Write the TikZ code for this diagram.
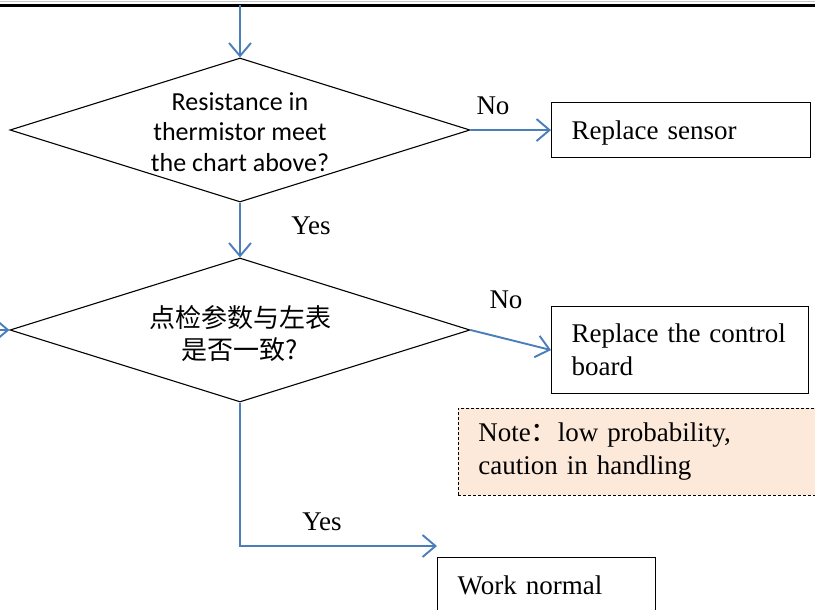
\documentclass[tikz,border=0pt]{standalone}
\usepackage{fontspec}
\setmainfont{Liberation Serif}
\newfontfamily\cjk{Noto Sans CJK SC}
\newfontfamily\qfont{Carlito}
\usetikzlibrary{shapes.geometric, arrows.meta, positioning}
\definecolor{flowblue}{HTML}{4A7EBB}
\definecolor{notefill}{HTML}{FCE9DA}

\begin{document}
\begin{tikzpicture}[
  x=1pt, y=-1pt,
  decision/.style={diamond, draw, line width=1.1pt, minimum width=460pt, minimum height=144pt, inner sep=0pt},
  qtext/.style={align=center, font=\qfont\fontsize{26}{30.5}\selectfont},
  actbox/.style={rectangle, draw, line width=1.1pt, anchor=north west, inner xsep=20pt, inner ysep=0pt, align=left, font=\fontsize{27}{33}\selectfont},
  notebox/.style={actbox, dashed, dash pattern=on 3pt off 2pt, line width=0.9pt, fill=notefill},
  tag/.style={font=\fontsize{27}{33}\selectfont, inner sep=0pt},
  arrow/.style={-{Straight Barb[length=13pt,width=22pt]}, line width=1.9pt, draw=flowblue}
]
  \useasboundingbox (0,0) rectangle (815,610);

  % rule along the top edge
  \draw[gray!45, line width=1pt] (0,2) -- (815,2);
  \draw[line width=2.5pt] (0,5.5) -- (815,5.5);
  \coordinate (topin) at (240,5.5);
  \coordinate (leftin) at (-30,330);
  \coordinate (yesend) at (437,546);

  % checks
  \node[decision] (chk1) at (240,130) {};
  \node[qtext] (chk1txt) at (240,132) {Resistance in\\thermistor meet\\the chart above?};
  \node[decision] (chk2) at (240,330) {};
  \node[qtext, font=\cjk\fontsize{26}{32}\selectfont] (chk2txt) at (240,334) {点检参数与左表\\是否一致?};

  % actions
  \node[actbox, text width=219pt, text depth=0pt, minimum height=55pt] (sensor) at (551,102) {Replace sensor};
  \node[actbox, text width=217pt, minimum height=87pt] (board) at (551,306) {Replace the control\\board};
  \node[notebox, text width=332pt, minimum height=87pt] (note) at (458,408) {Note{\cjk ：}low probability,\\caution in handling};
  \node[actbox, text width=178pt, minimum height=56pt] (work) at (437,557) {Work normal};

  % branch labels
  \node[tag] (no1) at (493,106) {No};
  \node[tag] (yes1) at (311,226) {Yes};
  \node[tag] (no2) at (506,300) {No};
  \node[tag] (yes2) at (322,522) {Yes};

  \draw[arrow] (topin) -- (chk1.north);
  \draw[arrow] (chk1.east) -- (sensor.west);
  \draw[arrow] (chk1.south) -- (chk2.north);
  \draw[arrow] (leftin) -- (chk2.west);
  \draw[arrow] (chk2.east) -- (board.west);
  \draw[arrow] (chk2.south) |- (yesend);
\end{tikzpicture}
\end{document}
